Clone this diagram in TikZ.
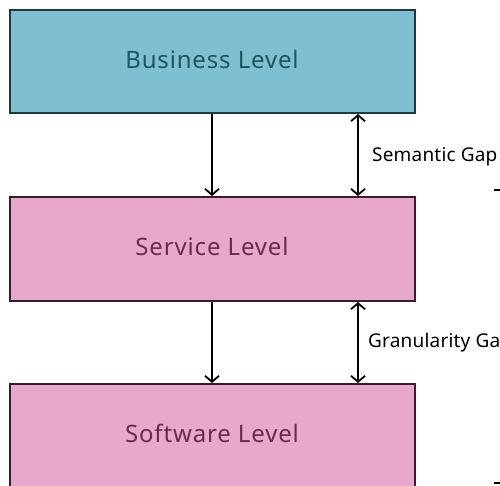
\documentclass[tikz,border=0pt]{standalone}
\usepackage{fontspec}
\setmainfont{Noto Sans}[LetterSpace=3.5]
\newfontfamily\gapfont{Noto Sans}[LetterSpace=1]
\usetikzlibrary{arrows.meta}
\definecolor{bizfill}{HTML}{7EC0D2}
\definecolor{bizline}{HTML}{1C3A42}
\definecolor{biztext}{HTML}{1E5560}
\definecolor{lvlfill}{HTML}{E6A8CB}
\definecolor{lvlline}{HTML}{3E1A2E}
\definecolor{lvltext}{HTML}{6B2A52}
\tikzset{
  levelbox/.style={draw, line width=2pt, minimum width=405pt, inner sep=0pt},
  biz/.style={levelbox, fill=bizfill, draw=bizline},
  lvl/.style={levelbox, fill=lvlfill, draw=lvlline},
  levellabel/.style={anchor=base, inner sep=0pt, font=\fontsize{24}{28}\selectfont},
  barb/.tip={Straight Barb[length=6pt,width=14pt,line width=1.8pt]},
  flow/.style={line width=2pt, -barb},
  gap/.style={line width=2pt, barb-barb},
  gaplabel/.style={anchor=base west, inner sep=0pt, font=\gapfont\fontsize{19}{22}\selectfont},
  tick/.style={line width=1.5pt}
}
\begin{document}
\begin{tikzpicture}[x=1pt, y=-1pt]
  \useasboundingbox (0,0) rectangle (500,485);
  \clip (0,0) rectangle (500,485);
  \fill[white] (0,0) rectangle (500,485);

  % the three levels
  \node[biz, minimum height=103pt] (business) at (212.5,61.5) {};
  \node[lvl, minimum height=104pt] (service) at (212.5,249) {};
  \node[lvl, minimum height=220pt] (software) at (212.5,494) {};
  \node[levellabel, text=biztext] (bizlabel) at (212,68) {Business Level};
  \node[levellabel, text=lvltext] (servlabel) at (212,255.5) {Service Level};
  \node[levellabel, text=lvltext] (softlabel) at (212,442.5) {Software Level};

  % x positions of the arrows
  \coordinate (fx) at (212,0);
  \coordinate (gx) at (358,0);

  % refinement arrows
  \draw[flow] (business.south -| fx) -- (service.north -| fx);
  \draw[flow] (service.south -| fx) -- (software.north -| fx);

  % gap arrows
  \draw[gap] (business.south -| gx) -- (service.north -| gx);
  \draw[gap] (service.south -| gx) -- (software.north -| gx);

  % gap labels
  \node[gaplabel] (semgap) at (372,161) {Semantic Gap};
  \node[gaplabel] (grangap) at (368,347.5) {Granularity Gap};

  % marks at the right edge
  \coordinate (t1a) at (494,190); \coordinate (t1b) at (502,190);
  \coordinate (t2a) at (494,483); \coordinate (t2b) at (502,483);
  \draw[tick] (t1a) -- (t1b);
  \draw[tick] (t2a) -- (t2b);
\end{tikzpicture}
\end{document}
